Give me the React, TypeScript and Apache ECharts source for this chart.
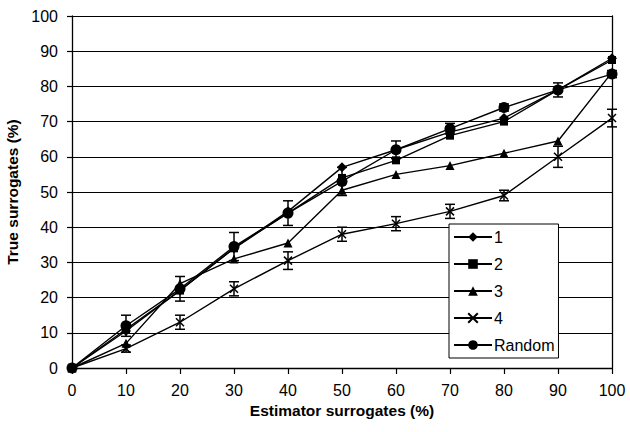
import React, { useEffect, useRef } from "react";
import * as echarts from "echarts";

const xValues = [0, 10, 20, 30, 40, 50, 60, 70, 80, 90, 100];
const series1 = [0, 10.5, 22, 34, 44.5, 57, 62, 67, 71, 79, 88];
const series2 = [0, 11, 22, 34, 44, 54, 59, 66, 70, 79, 87.5];
const series3 = [0, 7, 24, 31, 35.5, 50.5, 55, 57.5, 61, 64.5, 84];
const series4 = [0, 5.5, 13, 22.5, 30.5, 38, 41, 44.5, 49, 60, 71];
const seriesRandom = [0, 12, 22.5, 34.5, 44, 53, 62, 68, 74, 79, 83.5];
const errRandom = [0, 3, 3.5, 4, 3.5, 4, 2.5, 1.5, 1, 2, 1];
const err4 = [0, 1, 2, 2, 2.5, 2, 2, 2, 1.5, 3, 2.5];
const seriesNames = ["1", "2", "3", "4", "Random"];

const FONT = "'Liberation Sans', Arial, sans-serif";

function pairs(vals: number[]) {
  return xValues.map((x, i) => [x, vals[i]]);
}
function errPairs(vals: number[], errs: number[]) {
  return xValues.map((x, i) => [x, vals[i], errs[i]]).filter((d) => d[2] > 0);
}

const crossPath = "path://M0,0L10,10M10,0L0,10";

export default function App() {
  const ref = useRef<HTMLDivElement>(null);
  useEffect(() => {
    if (!ref.current) return;
    const chart = echarts.init(ref.current, undefined, { renderer: "svg" });
    const lineBase = (name: string, vals: number[], symbol: string, size: number) => ({
      name,
      type: "line",
      data: pairs(vals),
      symbol,
      symbolSize: size,
      showAllSymbol: true,
      lineStyle: { color: "#000", width: 1.4 },
      itemStyle: { color: "#000" },
      z: 3,
    });
    const errSeries = (vals: number[], errs: number[]) => ({
      type: "custom",
      data: errPairs(vals, errs),
      z: 4,
      renderItem: (params: any, api: any) => {
        const x = api.value(0);
        const y = api.value(1);
        const e = api.value(2);
        const top = api.coord([x, y + e]);
        const bot = api.coord([x, y - e]);
        const hw = 5;
        const st = { stroke: "#000", lineWidth: 1.5 };
        return {
          type: "group",
          children: [
            { type: "line", shape: { x1: top[0], y1: top[1], x2: bot[0], y2: bot[1] }, style: st },
            { type: "line", shape: { x1: top[0] - hw, y1: top[1], x2: top[0] + hw, y2: top[1] }, style: st },
            { type: "line", shape: { x1: bot[0] - hw, y1: bot[1], x2: bot[0] + hw, y2: bot[1] }, style: st },
          ],
        };
      },
    });
    chart.setOption({
      animation: false,
      backgroundColor: "#fff",
      grid: { left: 72, right: 18, top: 16, bottom: 64, containLabel: false, outerBoundsMode: "none" },
      legend: {
        data: seriesNames,
        orient: "vertical",
        left: 449,
        top: 224,
        backgroundColor: "#fff",
        borderColor: "#000",
        borderWidth: 1,
        borderRadius: 0,
        padding: [5, 4, 5, 4],
        itemWidth: 38,
        itemHeight: 12,
        itemGap: 11,
        textStyle: { fontFamily: FONT, fontSize: 16, color: "#000", padding: [0, 0, 0, -3] },
      },
      xAxis: {
        type: "value",
        min: 0,
        max: 100,
        interval: 10,
        name: "Estimator surrogates (%)",
        nameLocation: "middle",
        nameGap: 24,
        nameTextStyle: { fontFamily: FONT, fontSize: 15.5, fontWeight: "bold", color: "#000" },
        axisLine: { show: true, lineStyle: { color: "#000", width: 1.3 } },
        axisTick: { show: true, length: 6, lineStyle: { color: "#000", width: 1.2 } },
        axisLabel: { fontFamily: FONT, fontSize: 16, color: "#000", margin: 14 },
        splitLine: { show: false },
      },
      yAxis: [
        {
          type: "value",
          min: 0,
          max: 100,
          interval: 10,
          name: "True surrogates (%)",
          nameLocation: "middle",
          nameGap: 52,
          nameTextStyle: { fontFamily: FONT, fontSize: 15.5, fontWeight: "bold", color: "#000" },
          axisLine: { show: true, lineStyle: { color: "#000", width: 1.3 } },
          axisTick: { show: true, length: 5, lineStyle: { color: "#000", width: 1.2 } },
          axisLabel: { fontFamily: FONT, fontSize: 16, color: "#000", margin: 14 },
          splitLine: { show: true, lineStyle: { color: "#000", width: 1.2 } },
        },
        {
          type: "value",
          min: 0,
          max: 100,
          interval: 10,
          position: "right",
          axisLine: { show: true, lineStyle: { color: "#000", width: 1.3 } },
          axisTick: { show: false },
          axisLabel: { show: false },
          splitLine: { show: false },
        },
      ],
      series: [
        lineBase("1", series1, "diamond", 10),
        lineBase("2", series2, "rect", 8),
        lineBase("3", series3, "triangle", 9),
        {
          ...lineBase("4", series4, crossPath, 8),
          itemStyle: { color: "#000", borderColor: "#000", borderWidth: 1.5 },
        },
        lineBase("Random", seriesRandom, "circle", 11),
        errSeries(seriesRandom, errRandom),
        errSeries(series4, err4),
      ],
    });
    return () => chart.dispose();
  }, []);
  return (
    <div
      ref={ref}
      style={{ position: "absolute", left: 0, top: 0, width: 630, height: 432 }}
    />
  );
}
